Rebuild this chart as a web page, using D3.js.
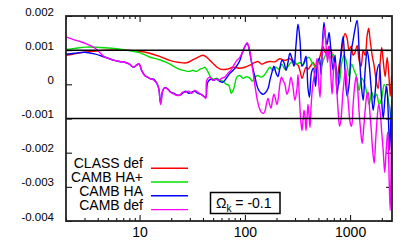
<!DOCTYPE html>
<html>
<head>
<meta charset="utf-8">
<script src="https://cdn.jsdelivr.net/npm/d3@7/dist/d3.min.js"></script>
<style>
  body { margin: 0; background: #fff; }
  text { font-family: "Liberation Sans", Arial, Helvetica, sans-serif; fill: #000; }
</style>
</head>
<body>
<div id="chart"></div>
<script>

// multipole values and relative differences
var classEll = [2.0, 2.4, 3.11, 3.73, 4.82, 7.47, 10, 12.45, 15.5, 19.3,
  24, 27.9, 32.2, 37.3, 40.1, 43.1, 49.9, 57.8, 66.9, 77.4,
  89.6, 100, 111.6, 124.5, 133, 145, 158, 173, 193, 215,
  240, 268, 299, 320, 334, 349, 365, 381, 398, 425,
  447, 474, 496, 518, 553, 578, 604, 631, 659, 689,
  720, 752, 786, 821, 858, 896, 936, 978, 1022, 1068,
  1116, 1166, 1218, 1273, 1330, 1390, 1452, 1500, 1550, 1620,
  1693, 1769, 1847, 1930, 1995, 2062, 2154, 2250, 2351, 2404,
  2480];
var classVal = [0.00085, 0.00089, 0.00095, 0.00097, 0.00100, 0.00100, 0.00097, 0.00091, 0.00082, 0.00070,
  0.00064, 0.00063, 0.00072, 0.00082, 0.00085, 0.00080, 0.00061, 0.00045, 0.00044, 0.00050,
  0.00047, 0.00050, 0.00056, 0.00064, 0.00067, 0.00059, 0.00064, 0.00067, 0.00066, 0.00075,
  0.00070, 0.00075, 0.00061, 0.00056, 0.00040, 0.00018, 0.00035, 0.00050, 0.00044, 0.00056,
  0.00064, 0.00040, 0.00064, 0.00082, 0.00111, 0.00094, 0.00088, 0.00111, 0.00100, 0.00079,
  0.00061, 0.00023, 0.00056, 0.00085, 0.00129, 0.00149, 0.00135, 0.00100, 0.00111, 0.00085,
  0.00094, 0.00114, 0.00070, 0.00053, 0.00100, 0.00085, 0.00143, 0.00164, 0.00129, 0.00085,
  0.00053, 0.00012, -0.00012, 0.00064, 0.00108, 0.00070, 0.00023, 0.00079, 0.00012, -0.00035,
  0.00026];

var hapEll = [2.0, 2.4, 3.11, 4.16, 5.78, 7.47, 10, 12.45, 15.5, 19.3,
  21.5, 24, 26.8, 29.9, 32, 34.7, 37.3, 39.8, 41.6, 44.4,
  47.5, 50.7, 54.1, 57.8, 62.1, 66.9, 70.4, 74.4, 78.6, 83.9,
  89.6, 95.7, 103.8, 111.6, 117.9, 124.5, 133, 142, 151.7, 162,
  173, 184.8, 197, 211, 225, 240, 257, 274, 293, 313,
  334, 357, 381, 407, 435, 464, 496, 530, 565, 604,
  645, 689, 736, 786, 830, 877, 926, 978, 1033, 1092,
  1153, 1218, 1287, 1360, 1436, 1517, 1602, 1693, 1787, 1888,
  1995, 2107, 2226, 2326, 2404, 2480];
var hapVal = [0.00102, 0.00105, 0.00109, 0.00108, 0.00105, 0.00100, 0.00093, 0.00080, 0.00072, 0.00060,
  0.00051, 0.00044, 0.00040, 0.00038, 0.00041, 0.00038, 0.00044, 0.00047, 0.00050, 0.00038,
  0.00021, 0.00015, 0.00018, 0.00012, 0.00009, 0.00000, -0.00003, -0.00026, -0.00012, 0.00021,
  0.00026, 0.00018, 0.00022, 0.00018, 0.00009, 0.00021, 0.00026, 0.00021, 0.00026, 0.00038,
  0.00050, 0.00041, 0.00050, 0.00044, 0.00059, 0.00044, 0.00053, 0.00064, 0.00070, 0.00059,
  0.00064, 0.00056, 0.00073, 0.00079, 0.00064, 0.00053, 0.00070, 0.00053, 0.00076, 0.00091,
  0.00076, 0.00088, 0.00047, 0.00000, 0.00061, 0.00085, 0.00064, 0.00023, 0.00059, 0.00041,
  0.00023, -0.00018, 0.00018, 0.00006, -0.00023, -0.00059, -0.00023, -0.00041, -0.00029, -0.00059,
  -0.00041, 0.00000, -0.00018, -0.00053, -0.00082, -0.00152];

var haEll = [2.0, 2.4, 3.0, 3.73, 4.64, 5.78, 6.45, 7.36, 8.03, 8.77,
  9.36, 9.89, 10.45, 11.2, 11.9, 12.7, 13.6, 14.5, 15.2, 15.85,
  16.6, 17.3, 18.5, 19.7, 21.1, 22.5, 24, 25.7, 27.4, 29.3,
  31.3, 33.4, 35.7, 38.1, 40.7, 42.5, 44.4, 47.5, 50.7, 54.1,
  57.8, 61.7, 66.9, 71.9, 77.4, 83.4, 89.6, 95.7, 100, 105,
  109, 114, 119, 124.5, 130, 136, 142, 148.4, 155, 166,
  173, 181, 189, 197, 206, 215, 225, 235, 246, 257,
  268, 280, 293, 306, 320, 334, 349, 365, 381, 398,
  411, 430, 449, 469, 490, 512, 530, 548, 565, 584,
  604, 631, 659, 689, 720, 752, 786, 821, 858, 896,
  936, 978, 1022, 1068, 1116, 1166, 1218, 1273, 1330, 1390,
  1452, 1517, 1585, 1656, 1730, 1807, 1888, 1973, 2062, 2154,
  2226, 2300, 2377, 2457, 2500];
var haVal = [0.00088, 0.00091, 0.00094, 0.00089, 0.00080, 0.00070, 0.00067, 0.00064, 0.00059, 0.00050,
  0.00056, 0.00060, 0.00041, 0.00026, 0.00021, 0.00016, 0.00015, 0.00004, -0.00012, -0.00056,
  -0.00018, -0.00010, -0.00013, -0.00023, -0.00026, -0.00031, -0.00032, -0.00026, -0.00020, -0.00026,
  -0.00023, -0.00020, -0.00026, -0.00029, -0.00035, -0.00038, 0.00006, 0.00015, 0.00012, 0.00015,
  0.00009, 0.00006, 0.00018, 0.00032, 0.00041, 0.00053, 0.00070, 0.00097, 0.00110, 0.00120,
  0.00108, 0.00076, 0.00047, 0.00023, -0.00003, -0.00018, -0.00025, -0.00029, -0.00026, -0.00012,
  0.00012, 0.00035, 0.00053, 0.00035, 0.00023, 0.00047, 0.00070, 0.00064, 0.00041, 0.00064,
  0.00091, 0.00076, 0.00053, 0.00114, 0.00176, 0.00129, 0.00053, 0.00064, 0.00082, -0.00012,
  -0.00038, 0.00035, 0.00047, -0.00006, 0.00064, 0.00076, 0.00029, 0.00129, 0.00181, 0.00135,
  0.00117, 0.00152, 0.00094, 0.00041, 0.00085, -0.00029, 0.00029, 0.00094, 0.00140, 0.00035,
  -0.00035, 0.00000, 0.00094, 0.00129, 0.00164, 0.00187, 0.00100, 0.00006, -0.00047, 0.00041,
  0.00100, 0.00059, -0.00012, -0.00076, -0.00023, 0.00041, 0.00059, -0.00023, -0.00100, -0.00032,
  -0.00006, -0.00082, -0.00193, -0.00076, -0.00047];

var defEll = [2.0, 2.4, 2.8, 3.2, 3.73, 4.16, 4.64, 5.18, 5.78, 6.45,
  7.36, 8.03, 8.77, 9.36, 9.89, 10.45, 11.2, 11.9, 12.7, 13.6,
  14.5, 15.2, 15.85, 16.6, 17.3, 18.5, 19.7, 21.1, 22.5, 24,
  25.7, 27.4, 29.3, 31.3, 33.4, 35.7, 38.1, 40.7, 42.5, 43.5,
  46.4, 49.6, 53, 56.6, 60.4, 64.5, 68.9, 73.6, 78.6, 83.9,
  89.6, 94.7, 100, 105, 110, 115, 120.5, 126, 131.6, 137.5,
  143.6, 150, 155, 160, 166, 171, 177, 183, 189, 195,
  202, 209, 215, 223, 230, 240, 251, 262, 274, 286,
  299, 313, 320, 330, 341, 349, 357, 365, 373, 381,
  389, 398, 407, 416, 425, 440, 454, 469, 485, 501,
  518, 535, 553, 572, 591, 611, 631, 652, 674, 697,
  720, 744, 769, 794, 821, 849, 877, 906, 936, 967,
  1000, 1033, 1068, 1104, 1141, 1179, 1218, 1259, 1301, 1345,
  1390, 1436, 1484, 1534, 1585, 1638, 1693, 1749, 1807, 1867,
  1930, 1995, 2062, 2131, 2202, 2275, 2351, 2404, 2457, 2500];
var defVal = [0.00139, 0.00130, 0.00124, 0.00117, 0.00107, 0.00094, 0.00080, 0.00075, 0.00070, 0.00067,
  0.00064, 0.00059, 0.00050, 0.00056, 0.00060, 0.00041, 0.00026, 0.00021, 0.00016, 0.00013,
  0.00004, -0.00012, -0.00059, -0.00018, -0.00010, -0.00015, -0.00023, -0.00028, -0.00032, -0.00032,
  -0.00023, -0.00023, -0.00020, -0.00026, -0.00018, -0.00023, -0.00029, -0.00035, -0.00041, 0.00012,
  0.00021, 0.00012, 0.00015, 0.00012, 0.00018, 0.00021, 0.00032, 0.00041, 0.00056, 0.00070,
  0.00079, 0.00094, 0.00111, 0.00122, 0.00105, 0.00070, 0.00029, -0.00012, -0.00047, -0.00070,
  -0.00082, -0.00085, -0.00079, -0.00059, -0.00041, -0.00056, -0.00070, -0.00047, -0.00029, -0.00041,
  -0.00059, -0.00035, 0.00000, 0.00021, 0.00012, 0.00000, -0.00029, -0.00012, 0.00021, -0.00006,
  -0.00047, -0.00012, 0.00029, -0.00041, -0.00111, -0.00135, -0.00105, -0.00076, -0.00094, -0.00135,
  -0.00100, -0.00059, -0.00091, -0.00126, -0.00070, -0.00006, 0.00021, 0.00041, 0.00076, 0.00012,
  -0.00038, 0.00064, 0.00129, 0.00167, 0.00114, 0.00064, 0.00111, 0.00041, -0.00029, 0.00041,
  0.00064, -0.00006, -0.00076, -0.00123, -0.00100, -0.00035, 0.00012, 0.00047, -0.00012, -0.00064,
  -0.00111, -0.00123, -0.00059, -0.00006, 0.00023, -0.00012, -0.00082, -0.00135, -0.00173, -0.00129,
  -0.00076, -0.00035, -0.00023, -0.00076, -0.00129, -0.00193, -0.00231, -0.00164, -0.00100, -0.00059,
  -0.00082, -0.00140, -0.00193, -0.00258, -0.00193, -0.00140, -0.00281, -0.00369, -0.00222, -0.00076];

var seriesNames = ["CLASS def", "CAMB HA+", "CAMB HA", "CAMB def"];
var seriesColors = ["#ff0000", "#00e000", "#0000ff", "#ff00ff"];

var xMajor = [10, 100, 1000];
var xMinor = [2, 3, 4, 5, 6, 7, 8, 9, 20, 30, 40, 50, 60, 70, 80, 90,
              200, 300, 400, 500, 600, 700, 800, 900, 2000];
var yTicks = [0.002, 0.001, 0, -0.001, -0.002, -0.003, -0.004];
var refLines = [0.001, -0.001];
var omegaK = "-0.1";

var width = 415, height = 249;
var plotL = 66, plotR = 392, plotT = 16, plotB = 221;

var svg = d3.select("#chart")
  .append("svg")
  .attr("width", width)
  .attr("height", height);

var x = d3.scaleLog().domain([2, 2500]).range([plotL, plotR]);
var y = d3.scaleLinear().domain([-0.004, 0.002]).range([plotB, plotT]);

svg.append("clipPath").attr("id", "plotclip")
  .append("rect")
  .attr("x", plotL).attr("y", plotT)
  .attr("width", plotR - plotL).attr("height", plotB - plotT);

// ticks (all drawn inward, gnuplot style)
function styleAxis(g) {
  g.select(".domain").remove();
  g.selectAll(".tick line").attr("stroke", "#000").attr("stroke-width", 1);
}

svg.append("g")
  .attr("transform", "translate(0," + plotB + ")")
  .call(d3.axisBottom(x).tickValues(xMajor).tickSize(-6).tickPadding(6)
    .tickFormat(d3.format("d")))
  .call(styleAxis)
  .selectAll("text").attr("font-size", 14);

svg.append("g")
  .attr("transform", "translate(0," + plotB + ")")
  .call(d3.axisBottom(x).tickValues(xMinor).tickSize(-3).tickFormat(""))
  .call(styleAxis);

svg.append("g")
  .attr("transform", "translate(0," + plotT + ")")
  .call(d3.axisTop(x).tickValues(xMajor).tickSize(-6).tickFormat(""))
  .call(styleAxis);

svg.append("g")
  .attr("transform", "translate(0," + plotT + ")")
  .call(d3.axisTop(x).tickValues(xMinor).tickSize(-3).tickFormat(""))
  .call(styleAxis);

svg.append("g")
  .attr("transform", "translate(" + plotL + ",0)")
  .call(d3.axisLeft(y).tickValues(yTicks).tickSize(-6).tickPadding(12)
    .tickFormat(function(d) { return d === 0 ? "0" : d3.format(".3f")(d).replace("−", "-"); }))
  .call(styleAxis)
  .selectAll("text").attr("font-size", 11.5).attr("dy", "-1px");

svg.append("g")
  .attr("transform", "translate(" + plotR + ",0)")
  .call(d3.axisRight(y).tickValues(yTicks).tickSize(-6).tickFormat(""))
  .call(styleAxis);

// curves (smoothed through the read points)
var line = d3.line()
  .curve(d3.curveCatmullRom.alpha(0.5))
  .x(function(d) { return x(d[0]); })
  .y(function(d) { return y(d[1]); });

var series = [
  d3.zip(classEll, classVal),
  d3.zip(hapEll, hapVal),
  d3.zip(haEll, haVal),
  d3.zip(defEll, defVal)
];

svg.append("g").attr("clip-path", "url(#plotclip)")
  .selectAll("path")
  .data(series)
  .enter().append("path")
  .attr("d", line)
  .attr("fill", "none")
  .attr("stroke", function(d, i) { return seriesColors[i]; })
  .attr("stroke-width", 1.4)
  .attr("stroke-linejoin", "round");

// +-0.001 reference lines
svg.selectAll(".ref")
  .data(refLines)
  .enter().append("line")
  .attr("class", "ref")
  .attr("x1", plotL).attr("x2", plotR)
  .attr("y1", function(d) { return y(d); })
  .attr("y2", function(d) { return y(d); })
  .attr("stroke", "#000")
  .attr("stroke-width", 1.5);

// frame
svg.append("rect")
  .attr("x", plotL).attr("y", plotT)
  .attr("width", plotR - plotL).attr("height", plotB - plotT)
  .attr("fill", "none")
  .attr("stroke", "#222")
  .attr("stroke-width", 1.8);

// legend
var legend = svg.selectAll(".legend")
  .data(seriesNames)
  .enter().append("g")
  .attr("class", "legend")
  .attr("transform", function(d, i) { return "translate(0," + (168.2 + i * 13.8) + ")"; });

legend.append("text")
  .attr("x", 143)
  .attr("y", 0)
  .attr("text-anchor", "end")
  .attr("font-size", 14)
  .text(function(d) { return d; });

legend.append("line")
  .attr("x1", 151).attr("x2", 188)
  .attr("y1", 0).attr("y2", 0)
  .attr("stroke", function(d, i) { return seriesColors[i]; })
  .attr("stroke-width", 1.4);

// Omega_k label box
svg.append("rect")
  .attr("x", 210.5).attr("y", 192.5)
  .attr("width", 69.5).attr("height", 21)
  .attr("fill", "#fff")
  .attr("stroke", "#000")
  .attr("stroke-width", 1.5);

var ok = svg.append("text")
  .attr("x", 216)
  .attr("y", 207.5)
  .attr("font-size", 14);
ok.append("tspan").text("Ω");
ok.append("tspan").attr("font-size", 10).attr("dy", 4).text("k");
ok.append("tspan").attr("dy", -4).text(" = " + omegaK);

</script>
</body>
</html>
